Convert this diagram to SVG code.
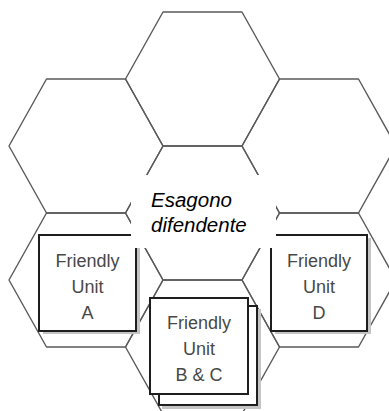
<svg xmlns="http://www.w3.org/2000/svg" width="389" height="411" viewBox="0 0 389 411">
  <style>
    .hex { fill: none; stroke: #5a5a5a; stroke-width: 1.4; stroke-linejoin: round; }
    .box { fill: #ffffff; stroke: #1e1e1e; stroke-width: 2; }
    .shadow { fill: #c4c4c4; }
    .unit { font-family: "Liberation Sans", Arial, sans-serif; font-size: 18px; fill: #484848; text-anchor: middle; }
    .lbl { font-family: "Liberation Sans", Arial, sans-serif; font-size: 20.5px; font-style: italic; fill: #000000; }
  </style>
  <rect x="0" y="0" width="389" height="411" fill="#ffffff"/>

  <g id="hexgrid">
    <polygon class="hex" points="163,12 242,12 279.5,79 242,146 163,146 125.5,79"/>
    <polygon class="hex" points="46.5,79 125.5,79 163,146 125.5,213 46.5,213 9,146"/>
    <polygon class="hex" points="279.5,79 358.5,79 396,146 358.5,213 279.5,213 242,146"/>
    <polygon class="hex" points="163,146 242,146 279.5,213 242,280 163,280 125.5,213"/>
    <polygon class="hex" points="46.5,213 125.5,213 163,280 125.5,347 46.5,347 9,280"/>
    <polygon class="hex" points="279.5,213 358.5,213 396,280 358.5,347 279.5,347 242,280"/>
    <polygon class="hex" points="163,280 242,280 279.5,347 242,414 163,414 125.5,347"/>
  </g>

  <g id="unitA">
    <rect class="shadow" x="43" y="238" width="97" height="96"/>
    <rect class="box" x="39" y="235" width="97" height="96"/>
    <text class="unit" x="87.5" y="267">Friendly</text>
    <text class="unit" x="87.5" y="293">Unit</text>
    <text class="unit" x="87.5" y="319">A</text>
  </g>

  <g id="unitD">
    <rect class="shadow" x="275" y="238" width="96" height="96"/>
    <rect class="box" x="271" y="235" width="96" height="96"/>
    <text class="unit" x="319" y="267">Friendly</text>
    <text class="unit" x="319" y="293">Unit</text>
    <text class="unit" x="319" y="319">D</text>
  </g>

  <g id="unitBC">
    <rect class="shadow" x="162" y="309" width="99" height="100"/>
    <rect class="box" x="159" y="306" width="98" height="99"/>
    <rect class="box" x="150" y="298" width="98" height="96"/>
    <text class="unit" x="199" y="328.5">Friendly</text>
    <text class="unit" x="199" y="355">Unit</text>
    <text class="unit" x="199" y="381">B &amp; C</text>
  </g>

  <g id="defendingHex">
    <rect x="131" y="175" width="145" height="73" rx="4" fill="#ffffff"/>
    <text class="lbl" x="151" y="206.5">Esagono</text>
    <text class="lbl" x="151" y="231.5">difendente</text>
  </g>
</svg>
